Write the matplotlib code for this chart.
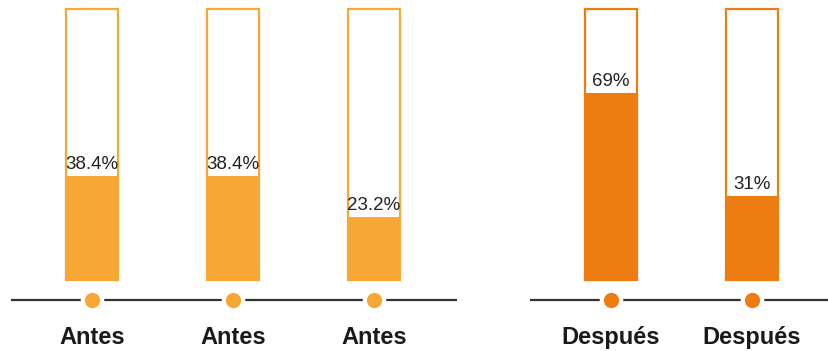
import matplotlib
matplotlib.use("Agg")
import matplotlib.pyplot as plt

# Data
labels_before = ["Antes", "Antes", "Antes"]
values_before = [38.4, 38.4, 23.2]
text_before = ["38.4%", "38.4%", "23.2%"]
labels_after = ["Después", "Después"]
values_after = [69, 31]
text_after = ["69%", "31%"]

color_before = "#F6A735"
color_after = "#EE7D11"

plt.rcParams['font.family'] = ['Liberation Sans', 'DejaVu Sans']

W, H = 829, 351
fig = plt.figure(figsize=(W / 100, H / 100), dpi=100)
ax = fig.add_axes([0, 0, 1, 1])
ax.set_axis_off()

px_per_unit_x = 141.0
x0_px = 91.8
ax.set_xlim(-x0_px / px_per_unit_x, (W - x0_px) / px_per_unit_x)
y_px_per_unit = (280 - 9) / 100.0
ax.set_ylim(-(H - 280) / y_px_per_unit, 100 + 9 / y_px_per_unit)

bar_w = 0.37
line_y = -(300 - 280) / y_px_per_unit
label_y = -(344 - 280) / y_px_per_unit

groups = [
    (0.0, labels_before, values_before, text_before, color_before),
    (3.68, labels_after, values_after, text_after, color_after),
]

for start, labs, vals, txts, col in groups:
    xs = [start + i for i in range(len(vals))]
    # baseline line
    ax.plot([xs[0] - 0.57, xs[-1] + 0.59], [line_y, line_y], color="#333333",
            lw=1.6, solid_capstyle="butt", zorder=1)
    # outline bars (100%)
    ax.bar(xs, [100] * len(xs), width=bar_w, bottom=0, facecolor="white",
           edgecolor=col, linewidth=1.6, zorder=2)
    # filled bars
    ax.bar(xs, vals, width=bar_w, bottom=0, color=col, linewidth=0, zorder=3)
    # dots with white gap
    ax.plot(xs, [line_y] * len(xs), "o", ms=17, color="white", mew=0, zorder=4)
    ax.plot(xs, [line_y] * len(xs), "o", ms=11, color=col, mew=0, zorder=5)
    for x, v, t, lab in zip(xs, vals, txts, labs):
        ax.annotate(t, (x, v), xytext=(0, 5), textcoords="offset points",
                    ha="center", va="baseline", fontsize=13.5, color="#222222",
                    zorder=6)
        ax.text(x, label_y, lab, ha="center", va="baseline", fontsize=17,
                fontweight="bold", color="#1a1a1a", zorder=6)

fig.savefig("out.png", dpi=100, facecolor="white")
